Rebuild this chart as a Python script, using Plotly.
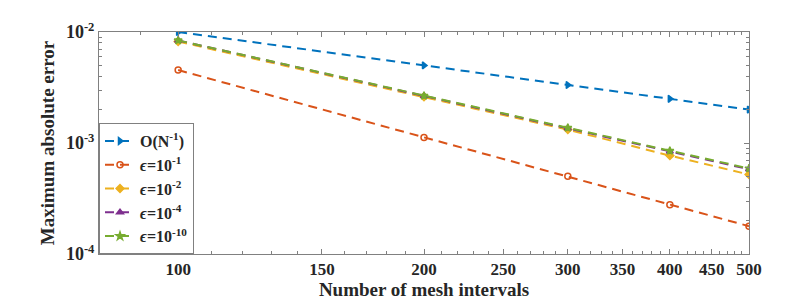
import plotly.graph_objects as go

N = [100, 200, 300, 400, 500]
err_ref = [0.01, 0.005, 0.00333, 0.0025, 0.002]
err_e1 = [0.00454, 0.00112, 0.000501, 0.000278, 0.000178]
err_e2 = [0.0082, 0.00261, 0.00132, 0.00077, 0.00052]
err_e4 = [0.0084, 0.00265, 0.00136, 0.00084, 0.00058]
err_e10 = [0.0084, 0.00266, 0.00137, 0.00085, 0.00059]

names = ["O(N<sup>-1</sup>)", "<i>ϵ</i>=10<sup>-1</sup>", "<i>ϵ</i>=10<sup>-2</sup>",
         "<i>ϵ</i>=10<sup>-4</sup>", "<i>ϵ</i>=10<sup>-10</sup>"]
series = [err_ref, err_e1, err_e2, err_e4, err_e10]
colors = ["#0072BD", "#D95319", "#EDB120", "#7E2F8E", "#77AC30"]
symbols = ["triangle-right", "circle-open", "diamond", "triangle-up", "star"]

x_major = [100, 150, 200, 250, 300, 350, 400, 450, 500]
x_minor = [v for v in range(80, 501, 10) if v not in x_major]
y_major = [1e-4, 1e-3, 1e-2]
y_major_text = ["10<sup>-4</sup>", "10<sup>-3</sup>", "10<sup>-2</sup>"]
y_minor = [m * 10.0 ** e for e in (-4, -3) for m in range(2, 10)]

FONT = "Liberation Serif"
TXT = "#262626"

fig = go.Figure()
for nm, ys, c, s in zip(names, series, colors, symbols):
    fig.add_trace(go.Scatter(
        x=N, y=ys, name=nm, mode="lines+markers",
        line=dict(color=c, width=2, dash="9px,6px"),
        marker=dict(symbol=s, size=6, color=c, line=dict(color=c, width=1.5)),
    ))

axis_common = dict(
    type="log", showgrid=False, zeroline=False, showline=True,
    linecolor="#808080", linewidth=1, mirror="ticks", ticks="inside",
    tickcolor="#808080", ticklen=5, tickwidth=1,
)

fig.update_layout(
    width=790, height=301,
    margin=dict(l=91, r=49, t=20, b=52),
    paper_bgcolor="white", plot_bgcolor="white",
    font=dict(family=FONT, color=TXT, weight="bold"),
    xaxis=dict(
        **axis_common,
        range=[1.90309, 2.69897],
        tickmode="array", tickvals=x_major, ticktext=[str(v) for v in x_major],
        tickfont=dict(family=FONT, size=17, color=TXT, weight="bold"),
        minor=dict(tickmode="array", tickvals=x_minor, ticks="inside", ticklen=3,
                   tickcolor="#808080", tickwidth=1),
        title=dict(text="Number of mesh intervals",
                   font=dict(family=FONT, size=19, color=TXT, weight="bold"),
                   standoff=4),
    ),
    yaxis=dict(
        **axis_common,
        range=[-4, -2],
        tickmode="array", tickvals=y_major, ticktext=y_major_text,
        tickfont=dict(family=FONT, size=18, color=TXT, weight="bold"),
        minor=dict(tickmode="array", tickvals=y_minor, ticks="inside", ticklen=3,
                   tickcolor="#808080", tickwidth=1),
        title=dict(text="Maximum absolute error",
                   font=dict(family=FONT, size=19, color=TXT, weight="bold"),
                   standoff=6),
    ),
    legend=dict(
        x=0, y=0, xanchor="left", yanchor="bottom",
        bordercolor="#808080", borderwidth=1, bgcolor="white",
        font=dict(family=FONT, size=16, color=TXT, weight="bold"),
        tracegroupgap=0, itemwidth=30,
    ),
    showlegend=True,
)

fig.write_html("out.html")
